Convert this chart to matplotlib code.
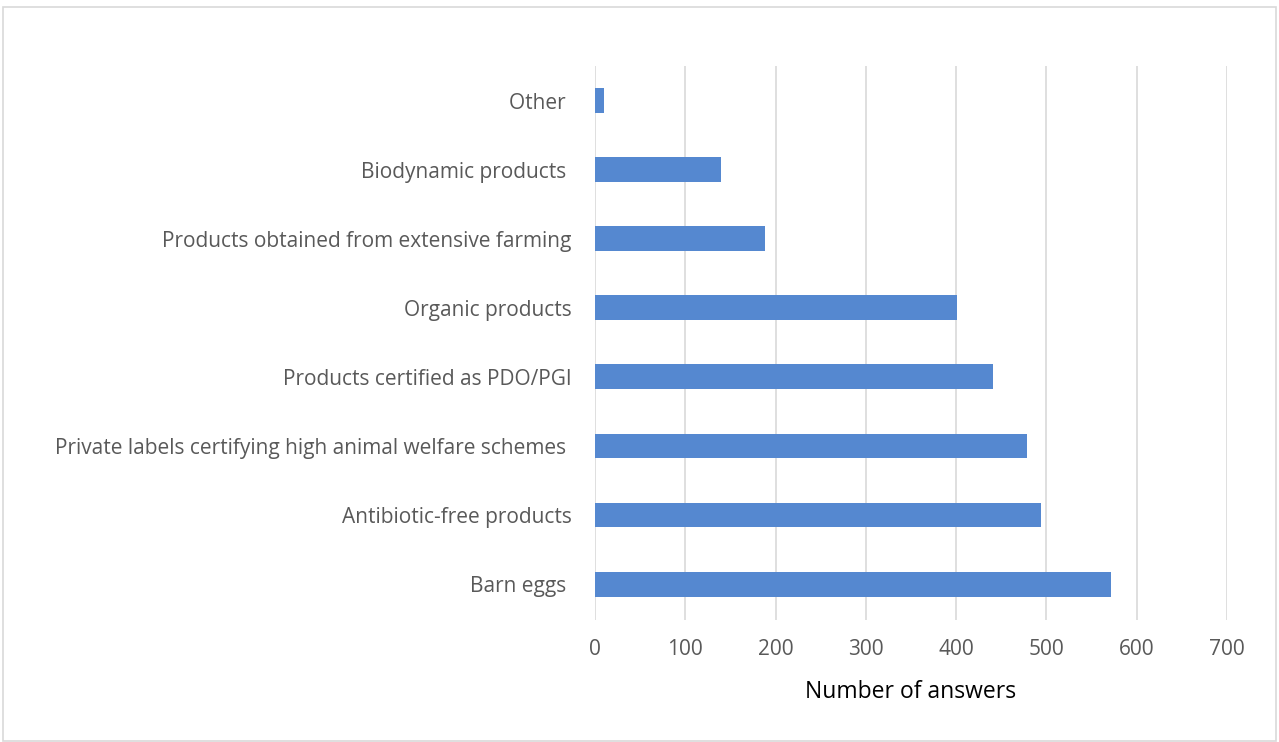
import matplotlib.pyplot as plt
from matplotlib.patches import Rectangle

categories = [
    "Barn eggs ",
    "Antibiotic-free products",
    "Private labels certifying high animal welfare schemes ",
    "Products certified as PDO/PGI",
    "Organic products",
    "Products obtained from extensive farming",
    "Biodynamic products ",
    "Other ",
]
answers = [572, 494, 478, 441, 401, 188, 140, 10]
xticks = [0, 100, 200, 300, 400, 500, 600, 700]

plt.rcParams['font.family'] = ['Open Sans', 'DejaVu Sans']

fig = plt.figure(figsize=(12.79, 7.42), dpi=100)
ax = fig.add_axes([0.4652, 0.1644, 0.4941, 0.7466])

ax.barh(range(len(categories)), answers, height=0.36, color='#5588d0', zorder=3)

ax.set_xlim(0, 700)
ax.set_ylim(-0.52, 7.5)
ax.set_xticks(xticks)
ax.set_yticks(range(len(categories)))
ax.set_yticklabels(categories)
ax.tick_params(axis='both', length=0, labelsize=15, colors='#595959')
ax.tick_params(axis='y', pad=17)
ax.tick_params(axis='x', pad=14)
ax.grid(axis='x', color='#d9d9d9', linewidth=1.2, zorder=0)
for s in ax.spines.values():
    s.set_visible(False)

ax.set_xlabel("Number of answers", fontsize=16.5, color='#000000', labelpad=14)

# outer chart border
fig.patches.append(Rectangle((0.002, 0.002), 0.996, 0.988, transform=fig.transFigure,
                             fill=False, edgecolor='#d9d9d9', linewidth=1.2))

fig.savefig("out.png", dpi=100, facecolor='white')
